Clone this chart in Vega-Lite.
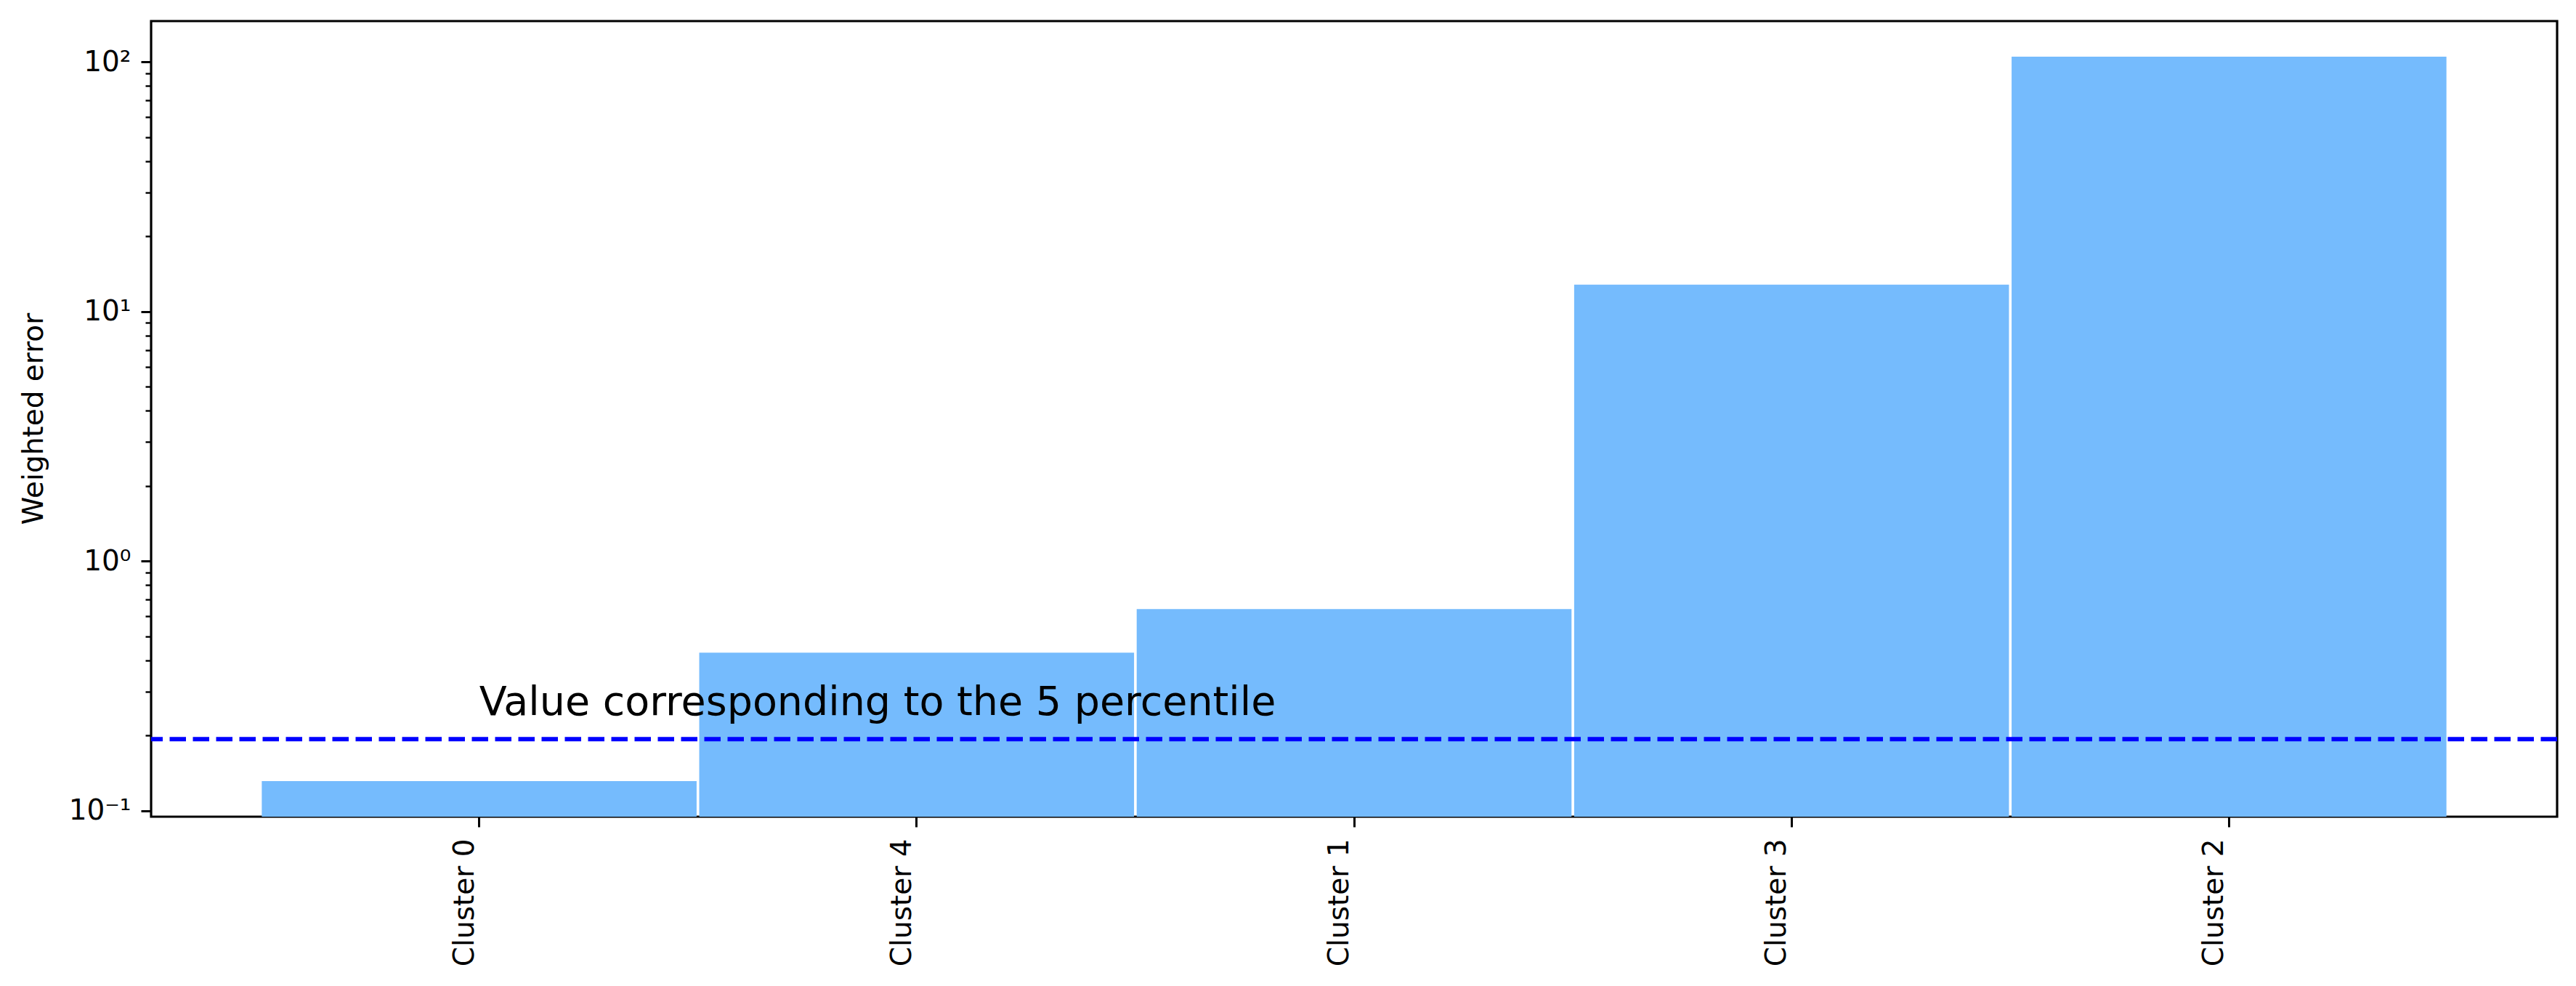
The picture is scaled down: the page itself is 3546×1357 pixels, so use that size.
{
  "$schema": "https://vega.github.io/schema/vega-lite/v6.json",
  "autosize": {"type": "none"},
  "padding": {"left": 208, "top": 29, "right": 26, "bottom": 233},
  "width": 3312,
  "height": 1095,
  "background": "white",
  "config": {
    "font": "DejaVu Sans",
    "view": {"stroke": "black", "strokeWidth": 3.2},
    "axis": {
      "labelFont": "DejaVu Sans",
      "titleFont": "DejaVu Sans",
      "labelColor": "black",
      "titleColor": "black",
      "tickColor": "black",
      "domain": false,
      "grid": false
    }
  },
  "datasets": {
    "errors": [
      {"cluster": "Cluster 0", "error": 0.1314},
      {"cluster": "Cluster 4", "error": 0.4296},
      {"cluster": "Cluster 1", "error": 0.642},
      {"cluster": "Cluster 3", "error": 12.82},
      {"cluster": "Cluster 2", "error": 105.0}
    ],
    "threshold": [{"threshold": 0.1934}],
    "note": [{"cluster": "Cluster 0", "pos": 0.2418, "label": "Value corresponding to the 5 percentile"}]
  },
  "layer": [
    {
      "data": {"name": "errors"},
      "mark": {"type": "bar", "color": "#75bbfd", "width": {"band": 0.994}},
      "encoding": {
        "x": {
          "field": "cluster",
          "type": "nominal",
          "sort": null,
          "scale": {"domain": ["Cluster 0", "Cluster 4", "Cluster 1", "Cluster 3", "Cluster 2"], "paddingInner": 0, "paddingOuter": 0.25},
          "axis": {
            "title": null,
            "labelAngle": 270,
            "labelAlign": "right",
            "labelBaseline": "bottom",
            "labelFontSize": 39,
            "labelPadding": 16,
            "tickSize": 14,
            "tickWidth": 3
          }
        },
        "y": {
          "field": "error",
          "type": "quantitative",
          "scale": {"type": "log", "domain": [0.09459, 145.75], "nice": false, "zero": false},
          "axis": {
            "orient": "left",
            "title": "Weighted error",
            "titleFontSize": 39,
            "titleFontWeight": "normal",
            "titleX": -162,
            "titleY": 547,
            "titleAngle": 270,
            "titleAlign": "center",
            "titleBaseline": "middle",
            "values": [0.1, 1, 10, 100],
            "labelExpr": "datum.value < 0.5 ? '10⁻¹' : datum.value < 5 ? '10⁰' : datum.value < 50 ? '10¹' : '10²'",
            "labelFontSize": 39,
            "labelPadding": 14,
            "tickSize": 14,
            "tickWidth": 3
          }
        },
        "y2": {"datum": 0.09459}
      }
    },
    {
      "data": {"name": "threshold"},
      "mark": {"type": "rule", "color": "#0000ff", "strokeWidth": 6, "strokeDash": [22.5, 9.5]},
      "encoding": {
        "y": {
          "field": "threshold",
          "type": "quantitative",
          "axis": {
            "orient": "left",
            "title": null,
            "labels": false,
            "values": [0.2, 0.3, 0.4, 0.5, 0.6, 0.7, 0.8, 0.9, 2, 3, 4, 5, 6, 7, 8, 9, 20, 30, 40, 50, 60, 70, 80, 90],
            "tickSize": 8,
            "tickWidth": 2.4
          }
        }
      }
    },
    {
      "data": {"name": "note"},
      "mark": {"type": "text", "align": "left", "baseline": "alphabetic", "fontSize": 55.5, "color": "black", "font": "DejaVu Sans"},
      "encoding": {
        "x": {"field": "cluster", "type": "nominal", "sort": null},
        "y": {"field": "pos", "type": "quantitative", "axis": null},
        "text": {"field": "label"}
      }
    }
  ],
  "resolve": {"axis": {"y": "independent"}}
}
